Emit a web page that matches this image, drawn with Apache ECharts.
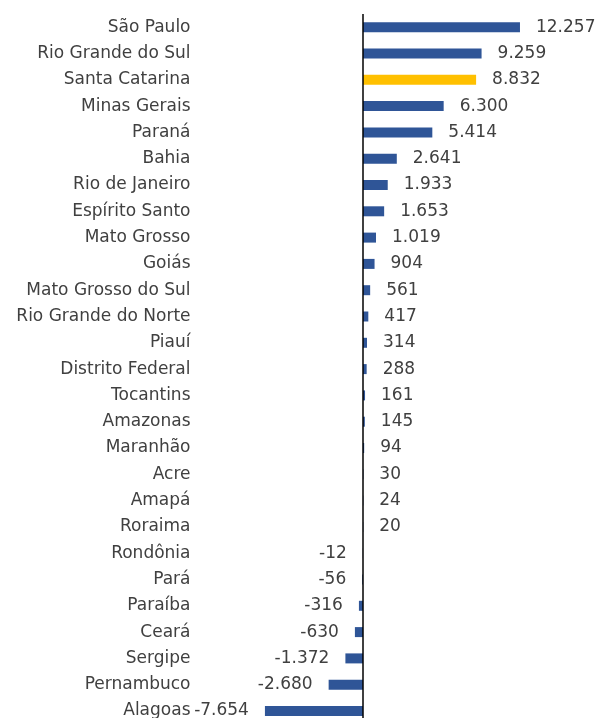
<!DOCTYPE html>
<html>
<head>
<meta charset="utf-8">
<script src="https://cdn.jsdelivr.net/npm/echarts@6/dist/echarts.min.js"></script>
<style>
html,body{margin:0;padding:0;background:#fff;}
#chart{width:596px;height:718px;}
</style>
</head>
<body>
<div id="chart"></div>
<script>
const categories = ["São Paulo","Rio Grande do Sul","Santa Catarina","Minas Gerais","Paraná","Bahia","Rio de Janeiro","Espírito Santo","Mato Grosso","Goiás","Mato Grosso do Sul","Rio Grande do Norte","Piauí","Distrito Federal","Tocantins","Amazonas","Maranhão","Acre","Amapá","Roraima","Rondônia","Pará","Paraíba","Ceará","Sergipe","Pernambuco","Alagoas"];
const values = [12257,9259,8832,6300,5414,2641,1933,1653,1019,904,561,417,314,288,161,145,94,30,24,20,-12,-56,-316,-630,-1372,-2680,-7654];
const highlight = "Santa Catarina";

const BLUE = "#2F5597", GOLD = "#FFC000", TXT = "#404040";
const FONT = "'DejaVu Sans', sans-serif";

function fmt(v){
  const s = Math.abs(v).toString().replace(/\B(?=(\d{3})+(?!\d))/g, ".");
  return (v < 0 ? "-" : "") + s;
}

const data = values.map((v, i) => ({
  value: v,
  itemStyle: { color: categories[i] === highlight ? GOLD : BLUE },
  label: { position: v < 0 ? "left" : "right" }
}));

const chart = echarts.init(document.getElementById("chart"), null, {renderer: "canvas"});
chart.setOption({
  animation: false,
  backgroundColor: "#fff",
  grid: { left: 260.5, right: 53.7, top: 14.05, height: 710.1, containLabel: false, outerBoundsMode: "none" },
  xAxis: { type: "value", min: -8000, max: 14000, show: false },
  yAxis: {
    type: "category", data: categories, inverse: true,
    axisLine: { show: false }, axisTick: { show: false },
    axisLabel: { color: TXT, fontSize: 17, fontFamily: FONT, margin: 70, align: "right" }
  },
  series: [{
    type: "bar", data: data, barWidth: 10,
    label: { show: true, distance: 16, color: TXT, fontSize: 17, fontFamily: FONT,
      formatter: p => fmt(p.value) },
    markLine: {
      silent: true, symbol: "none", animation: false,
      label: { show: false },
      lineStyle: { color: "#000", width: 1.5, type: "solid" },
      data: [{ xAxis: 0 }]
    }
  }]
});
</script>
</body>
</html>
